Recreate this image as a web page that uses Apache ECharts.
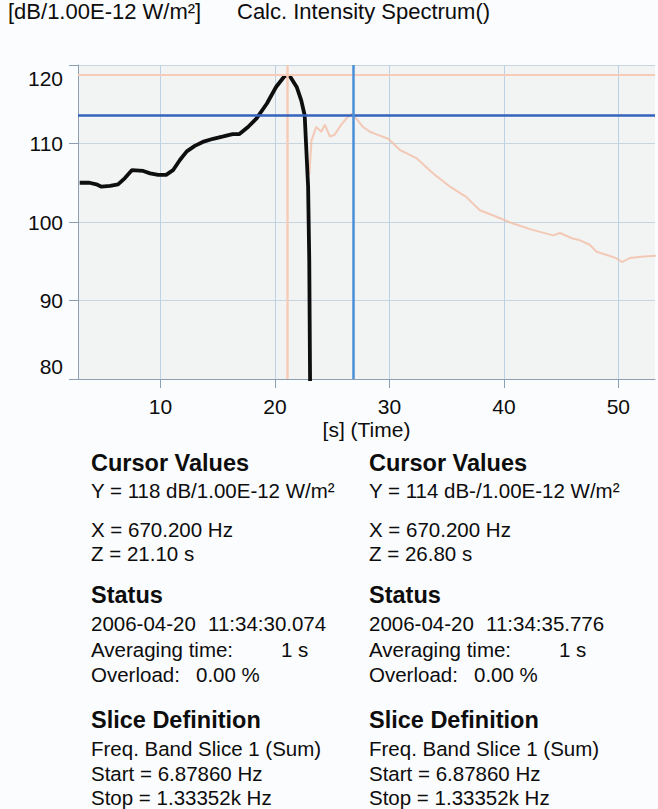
<!DOCTYPE html>
<html>
<head>
<meta charset="utf-8">
<script src="https://cdn.jsdelivr.net/npm/echarts@6/dist/echarts.min.js"></script>
<style>
html,body{margin:0;padding:0;background:#fbfcfe;}
#chart{width:658px;height:809px;}
</style>
</head>
<body>
<div id="chart"></div>
<script>
// ---- data ----
var blackTime = [2.95, 3.8, 4.4, 4.85, 5.6, 6.3, 6.9, 7.5, 8.5, 9.1, 9.8, 10.5, 11.1, 11.7, 12.3, 13.0, 13.7, 14.6, 15.5, 16.3, 16.9, 17.65, 18.4, 19.3, 20.1, 20.85, 21.3, 21.9, 22.3, 22.6, 22.9, 23.0, 23.06, 23.08];
var blackValue = [105.0, 105.0, 104.8, 104.5, 104.6, 104.8, 105.6, 106.6, 106.5, 106.2, 106.0, 106.0, 106.6, 107.9, 109.0, 109.7, 110.2, 110.6, 110.9, 111.2, 111.2, 112.1, 113.2, 115.1, 117.2, 118.6, 118.6, 117.2, 115.5, 113.6, 104.5, 95.2, 82.0, 78.0];
var orangeTime = [23.0, 23.2, 23.6, 24.06, 24.35, 24.8, 25.2, 25.8, 26.25, 26.7, 27.1, 27.7, 28.3, 29.0, 29.9, 30.9, 32.4, 33.8, 35.3, 36.7, 37.9, 39.3, 40.8, 42.5, 44.3, 44.9, 46.0, 46.6, 47.5, 48.1, 49.0, 49.8, 50.3, 51.0, 52.2, 53.3];
var orangeValue = [106.0, 110.4, 112.1, 111.5, 112.4, 110.9, 111.1, 112.4, 113.2, 113.8, 113.2, 112.1, 111.5, 111.1, 110.6, 109.2, 108.1, 106.2, 104.5, 103.2, 101.5, 100.7, 99.8, 99.0, 98.3, 98.6, 97.9, 97.7, 97.1, 96.2, 95.8, 95.4, 94.9, 95.4, 95.6, 95.7];
var cursorTime = [21.1, 26.8];
var cursorLevel = [118.7, 113.6];
var yTicks = [80, 90, 100, 110, 120];
var xTicks = [10, 20, 30, 40, 50];

var titleUnit = '[dB/1.00E-12 W/m²]';
var titleName = 'Calc. Intensity Spectrum()';
var xAxisName = '[s] (Time)';
var leftLines = ['Y = 118 dB/1.00E-12 W/m²', 'X = 670.200 Hz', 'Z = 21.10 s', '2006-04-20', '11:34:30.074'];
var rightLines = ['Y = 114 dB-/1.00E-12 W/m²', 'X = 670.200 Hz', 'Z = 26.80 s', '2006-04-20', '11:34:35.776'];
var headings = ['Cursor Values', 'Status', 'Slice Definition'];
var statusLabels = ['Averaging time:', '1 s', 'Overload:', '0.00 %'];
var sliceLines = ['Freq. Band Slice 1 (Sum)', 'Start = 6.87860 Hz', 'Stop = 1.33352k Hz'];

// ---- build ----
function zip(a, b) { var r = []; for (var i = 0; i < a.length; i++) r.push([a[i], b[i]]); return r; }

var FONT = '"Liberation Sans", Arial, Helvetica, sans-serif';
var TXT = '#0d0d0d';
var BODY = 20.5;
var HEAD = 23.5;

function txt(x, y, s, size, bold) {
  return {
    type: 'text', x: x, y: y, silent: true,
    style: { text: s, fill: TXT, font: (bold ? 'bold ' : '') + size + 'px ' + FONT, verticalAlign: 'middle', align: 'left' }
  };
}

var graphics = [
  txt(8, 11, titleUnit, 22, false),
  txt(237, 11, titleName, 22, false)
];
function column(x, lines) {
  graphics.push(txt(x, 463, headings[0], HEAD, true));
  graphics.push(txt(x, 490, lines[0], BODY, false));
  graphics.push(txt(x, 529, lines[1], BODY, false));
  graphics.push(txt(x, 553, lines[2], BODY, false));
  graphics.push(txt(x, 595, headings[1], HEAD, true));
  graphics.push(txt(x, 623, lines[3], BODY, false));
  graphics.push(txt(x + 117, 623, lines[4], BODY, false));
  graphics.push(txt(x, 649, statusLabels[0], BODY, false));
  graphics.push(txt(x + 190, 649, statusLabels[1], BODY, false));
  graphics.push(txt(x, 674, statusLabels[2], BODY, false));
  graphics.push(txt(x + 105, 674, statusLabels[3], BODY, false));
  graphics.push(txt(x, 720, headings[2], HEAD, true));
  graphics.push(txt(x, 748, sliceLines[0], BODY, false));
  graphics.push(txt(x, 773, sliceLines[1], BODY, false));
  graphics.push(txt(x, 797, sliceLines[2], BODY, false));
}
column(91, leftLines);
column(369, rightLines);

var chart = echarts.init(document.getElementById('chart'), null, { renderer: 'svg' });
chart.setOption({
  backgroundColor: '#fbfcfe',
  animation: false,
  grid: { left: 78, top: 65, right: 3, bottom: 430, show: true, backgroundColor: '#f2f3f3', borderWidth: 0 },
  xAxis: {
    type: 'value', min: 2.8, max: 53.2,
    name: xAxisName, nameLocation: 'middle', nameGap: 40,
    nameTextStyle: { color: TXT, fontSize: 21, fontFamily: FONT },
    axisLine: { show: true, lineStyle: { color: '#8d9fb2', width: 1 } },
    axisTick: { show: true, length: 9, lineStyle: { color: '#8d9fb2' }, customValues: xTicks },
    axisLabel: { color: TXT, fontSize: 21, fontFamily: FONT, margin: 17, customValues: xTicks },
    splitLine: { show: true, lineStyle: { color: '#bcd2e2', width: 1 } }
  },
  yAxis: {
    type: 'value', min: 80, max: 120, interval: 10,
    axisLine: { show: true, lineStyle: { color: '#8d9fb2', width: 1 } },
    axisTick: { show: true, length: 9, lineStyle: { color: '#8d9fb2' } },
    axisLabel: {
      color: TXT, fontSize: 21, fontFamily: FONT, margin: 15,
      formatter: function (v) {
        if (v === yTicks[yTicks.length - 1]) return '{top|' + v + '}';
        if (v === yTicks[0]) return '{bot|' + v + '}';
        return '{n|' + v + '}';
      },
      rich: {
        top: { fontSize: 21, fontFamily: FONT, color: TXT, padding: [26, 0, 0, 0] },
        bot: { fontSize: 21, fontFamily: FONT, color: TXT, padding: [0, 0, 26, 0] },
        n: { fontSize: 21, fontFamily: FONT, color: TXT }
      }
    },
    splitLine: { show: true, lineStyle: { color: '#c6d5e0', width: 1 } }
  },
  graphic: graphics,
  series: [
    {
      type: 'line', data: zip(orangeTime, orangeValue), showSymbol: false, z: 2,
      lineStyle: { color: '#f3bba1', width: 2, opacity: 0.75 },
      markLine: {
        silent: true, symbol: 'none', animation: false, label: { show: false },
        data: [
          { yAxis: cursorLevel[0], lineStyle: { color: '#f6ccb8', width: 2, type: 'solid' } },
          { xAxis: cursorTime[0], lineStyle: { color: '#f6ccb8', width: 2.5, type: 'solid' } }
        ]
      }
    },
    {
      type: 'line', data: zip(blackTime, blackValue), showSymbol: false, z: 4, clip: true,
      lineStyle: { color: '#0e0e0e', width: 3.8 }
    },
    {
      type: 'line', data: [], z: 5,
      markLine: {
        silent: true, symbol: 'none', animation: false, label: { show: false },
        data: [
          { yAxis: cursorLevel[1], lineStyle: { color: '#3463bf', width: 2.5, type: 'solid' } },
          { xAxis: cursorTime[1], lineStyle: { color: '#4b8fd8', width: 2.5, type: 'solid' } }
        ]
      }
    }
  ]
});
</script>
</body>
</html>
